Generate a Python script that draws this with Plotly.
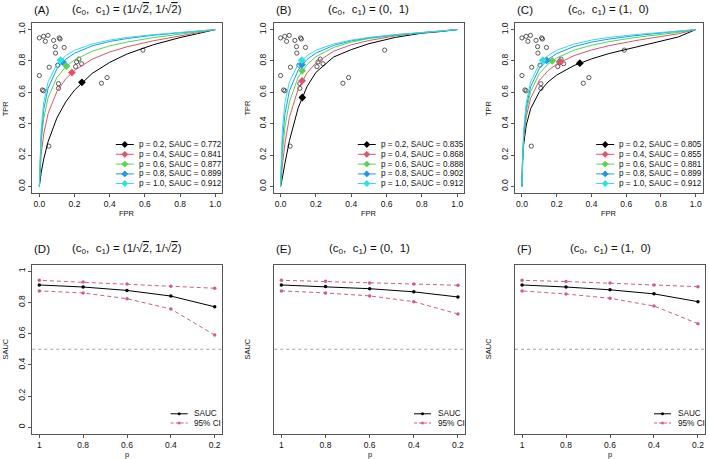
import plotly.graph_objects as go

W, H = 709, 459
FONT = "Liberation Sans, Arial, Helvetica, sans-serif"

# ---------------- data ----------------
FPR_GRID = [0, 0.003, 0.01, 0.025, 0.05, 0.1, 0.15, 0.2, 0.3, 0.4, 0.5, 0.65, 0.8, 0.9, 1.0]

P_VALUES = [0.2, 0.4, 0.6, 0.8, 1.0]
P_LABELS = ["0.2", "0.4", "0.6", "0.8", "1.0"]
COLORS = ["#000000", "#DF536B", "#61D04F", "#2297E6", "#28E2E5"]

# SROC curves (TPR at FPR_GRID), one list per p
SROC_A = [
    [0, 0.031, 0.085, 0.175, 0.286, 0.437, 0.539, 0.614, 0.720, 0.791, 0.845, 0.904, 0.949, 0.974, 1],
    [0, 0.090, 0.199, 0.335, 0.466, 0.606, 0.686, 0.740, 0.811, 0.857, 0.891, 0.929, 0.959, 0.978, 1],
    [0, 0.135, 0.277, 0.434, 0.567, 0.695, 0.763, 0.807, 0.862, 0.896, 0.921, 0.949, 0.970, 0.984, 1],
    [0, 0.154, 0.318, 0.490, 0.627, 0.750, 0.811, 0.849, 0.896, 0.924, 0.943, 0.964, 0.980, 0.989, 1],
    [0, 0.184, 0.362, 0.536, 0.667, 0.780, 0.834, 0.868, 0.908, 0.933, 0.950, 0.968, 0.982, 0.990, 1],
]
SROC_B = [
    [0, 0.013, 0.054, 0.148, 0.291, 0.502, 0.637, 0.727, 0.825, 0.872, 0.910, 0.950, 0.977, 0.987, 1],
    [0, 0.043, 0.131, 0.276, 0.440, 0.623, 0.724, 0.788, 0.862, 0.903, 0.930, 0.960, 0.980, 0.988, 1],
    [0, 0.082, 0.210, 0.380, 0.539, 0.697, 0.777, 0.827, 0.886, 0.920, 0.943, 0.964, 0.981, 0.989, 1],
    [0, 0.127, 0.284, 0.462, 0.609, 0.743, 0.810, 0.850, 0.899, 0.928, 0.947, 0.966, 0.9815, 0.9895, 1],
    [0, 0.184, 0.362, 0.536, 0.667, 0.780, 0.834, 0.868, 0.908, 0.933, 0.950, 0.968, 0.982, 0.990, 1],
]
SROC_C = [
    [0, 0.154, 0.270, 0.391, 0.495, 0.603, 0.666, 0.710, 0.771, 0.813, 0.847, 0.888, 0.926, 0.953, 1],
    [0, 0.167, 0.305, 0.446, 0.562, 0.676, 0.738, 0.780, 0.834, 0.870, 0.897, 0.929, 0.956, 0.973, 1],
    [0, 0.171, 0.324, 0.480, 0.604, 0.720, 0.780, 0.819, 0.869, 0.900, 0.923, 0.949, 0.969, 0.982, 1],
    [0, 0.174, 0.340, 0.506, 0.636, 0.752, 0.810, 0.847, 0.892, 0.920, 0.939, 0.961, 0.977, 0.987, 1],
    [0, 0.184, 0.362, 0.536, 0.667, 0.780, 0.834, 0.868, 0.908, 0.933, 0.950, 0.968, 0.982, 0.990, 1],
]

# summary operating points (diamonds)
SUM_FPR_A = [0.242, 0.185, 0.154, 0.133, 0.120]
SUM_TPR_A = [0.664, 0.726, 0.767, 0.794, 0.805]
SUM_FPR_B = [0.123, 0.122, 0.122, 0.121, 0.120]
SUM_TPR_B = [0.567, 0.673, 0.737, 0.776, 0.805]
SUM_FPR_C = [0.333, 0.222, 0.174, 0.142, 0.120]
SUM_TPR_C = [0.786, 0.794, 0.801, 0.803, 0.805]

SAUC_A = [0.772, 0.841, 0.877, 0.899, 0.912]
SAUC_B = [0.835, 0.868, 0.888, 0.902, 0.912]
SAUC_C = [0.805, 0.855, 0.881, 0.899, 0.912]

# 95% CI of SAUC (ordered as P_VALUES)
CI_HI_D = [0.891, 0.904, 0.919, 0.931, 0.942]
CI_LO_D = [0.591, 0.758, 0.824, 0.861, 0.874]
CI_HI_E = [0.910, 0.919, 0.925, 0.936, 0.942]
CI_LO_E = [0.726, 0.805, 0.842, 0.861, 0.874]
CI_HI_F = [0.901, 0.912, 0.925, 0.934, 0.942]
CI_LO_F = [0.664, 0.777, 0.827, 0.854, 0.874]

# individual studies
STUDY_FPR = [0.000, 0.024, 0.049, 0.034, 0.081, 0.113, 0.118, 0.141, 0.090, 0.092,
             0.056, 0.104, 0.000, 0.017, 0.024, 0.109, 0.109, 0.054, 0.353, 0.385,
             0.589, 0.225, 0.212, 0.206, 0.240]
STUDY_TPR = [0.947, 0.957, 0.963, 0.925, 0.931, 0.947, 0.940, 0.886, 0.891, 0.850,
             0.760, 0.773, 0.707, 0.615, 0.610, 0.655, 0.625, 0.257, 0.658, 0.694,
             0.869, 0.812, 0.794, 0.764, 0.782]

TOP_TICKS = [0, 0.2, 0.4, 0.6, 0.8, 1.0]
TOP_TICKTEXT = ["0.0", "0.2", "0.4", "0.6", "0.8", "1.0"]
BOT_XTICKS = [1, 0.8, 0.6, 0.4, 0.2]
BOT_XTICKTEXT = ["1", "0.8", "0.6", "0.4", "0.2"]
BOT_YTICKS = [0, 0.2, 0.4, 0.6, 0.8, 1]
BOT_YTICKTEXT = ["0", "0.2", "0.4", "0.6", "0.8", "1"]

TITLE_A = "(c<sub>0</sub>,  c<sub>1</sub>) = (1/√<span style='text-decoration:overline'>2</span>, 1/√<span style='text-decoration:overline'>2</span>)"
TITLE_B = "(c<sub>0</sub>,  c<sub>1</sub>) = (0,  1)"
TITLE_C = "(c<sub>0</sub>,  c<sub>1</sub>) = (1,  0)"

# ---------------- layout geometry (pixels) ----------------
TOP_BOX = [(32.3, 222.3), (273.5, 464.3), (515.0, 702.7)]
TOP_Y = (23.3, 192.7)
BOT_BOX = [(32.3, 221.7), (274.3, 465.0), (515.0, 705.0)]
BOT_Y = (265.0, 433.5)


def fx(px):
    return px / W


def fy(py):
    return 1 - py / H


fig = go.Figure()

axis_common = dict(
    showline=True, mirror=True, linecolor="#555555", linewidth=1,
    ticks="outside", ticklen=3, tickcolor="#555555", tickwidth=1,
    showgrid=False, zeroline=False,
    tickfont=dict(family=FONT, size=8.5, color="#111111"),
)

layout_axes = {}
for i in range(3):
    n = i + 1
    xs = "" if n == 1 else str(n)
    layout_axes["xaxis" + xs] = dict(
        axis_common, domain=[fx(TOP_BOX[i][0]), fx(TOP_BOX[i][1])],
        range=[-0.04, 1.04], tickvals=TOP_TICKS, ticktext=TOP_TICKTEXT,
        anchor="y" + xs,
    )
    layout_axes["yaxis" + xs] = dict(
        axis_common, domain=[fy(TOP_Y[1]), fy(TOP_Y[0])],
        range=[-0.04, 1.04], tickvals=TOP_TICKS, ticktext=TOP_TICKTEXT,
        tickangle=-90, anchor="x" + xs,
    )
for i in range(3):
    n = i + 4
    xs = str(n)
    layout_axes["xaxis" + xs] = dict(
        axis_common, domain=[fx(BOT_BOX[i][0]), fx(BOT_BOX[i][1])],
        range=[1.032, 0.168], tickvals=BOT_XTICKS, ticktext=BOT_XTICKTEXT,
        anchor="y" + xs,
    )
    ycfg = dict(
        axis_common, domain=[fy(BOT_Y[1]), fy(BOT_Y[0])],
        range=[-0.04, 1.04], tickvals=BOT_YTICKS, ticktext=BOT_YTICKTEXT,
        tickangle=-90, anchor="x" + xs,
    )
    if i > 0:
        ycfg["showticklabels"] = False
        ycfg["ticks"] = ""
    layout_axes["yaxis" + xs] = ycfg

# ---------------- top panels ----------------
tops = [
    (SROC_A, SUM_FPR_A, SUM_TPR_A, SAUC_A),
    (SROC_B, SUM_FPR_B, SUM_TPR_B, SAUC_B),
    (SROC_C, SUM_FPR_C, SUM_TPR_C, SAUC_C),
]
for i, (curves, sfpr, stpr, sauc) in enumerate(tops):
    n = i + 1
    xa = "x" if n == 1 else "x%d" % n
    ya = "y" if n == 1 else "y%d" % n
    fig.add_trace(go.Scatter(
        x=STUDY_FPR, y=STUDY_TPR, mode="markers", xaxis=xa, yaxis=ya,
        marker=dict(symbol="circle-open", size=4.2, color="#333333", line=dict(width=0.8)),
        showlegend=False, hoverinfo="skip"))
    for k in range(5):
        fig.add_trace(go.Scatter(
            x=FPR_GRID, y=curves[k], mode="lines", xaxis=xa, yaxis=ya,
            line=dict(color=COLORS[k], width=1), showlegend=False))
    for k in range(5):
        fig.add_trace(go.Scatter(
            x=[sfpr[k]], y=[stpr[k]], mode="markers", xaxis=xa, yaxis=ya,
            marker=dict(symbol="diamond", size=6, color=COLORS[k]),
            showlegend=False))

# ---------------- bottom panels ----------------
CI_COLOR = "#D0607A"
bots = [
    (SAUC_A, CI_LO_D, CI_HI_D),
    (SAUC_B, CI_LO_E, CI_HI_E),
    (SAUC_C, CI_LO_F, CI_HI_F),
]
shapes = []
for i, (sauc, lo, hi) in enumerate(bots):
    n = i + 4
    xa, ya = "x%d" % n, "y%d" % n
    shapes.append(dict(type="line", xref=xa + " domain", yref=ya, x0=0, x1=1, y0=0.5, y1=0.5,
                       line=dict(color="#A0A0A0", width=1, dash="3px,3px")))
    for ci in (lo, hi):
        fig.add_trace(go.Scatter(
            x=P_VALUES, y=ci, mode="lines+markers", xaxis=xa, yaxis=ya,
            line=dict(color=CI_COLOR, width=1, dash="4px,3px"),
            marker=dict(size=3.5, color=CI_COLOR), showlegend=False))
    fig.add_trace(go.Scatter(
        x=P_VALUES, y=sauc, mode="lines+markers", xaxis=xa, yaxis=ya,
        line=dict(color="#000000", width=1),
        marker=dict(size=3.5, color="#000000"), showlegend=False))

# ---------------- text ----------------
ann = []


def text(x, y, s, size=8.5, xanchor="center", yanchor="middle", angle=0, color="#111111"):
    ann.append(dict(x=fx(x), y=fy(y), xref="paper", yref="paper", text=s, showarrow=False,
                    xanchor=xanchor, yanchor=yanchor, textangle=angle,
                    font=dict(family=FONT, size=size, color=color)))


panel_letters_top = ["(A)", "(B)", "(C)"]
panel_letters_bot = ["(D)", "(E)", "(F)"]
titles = [TITLE_A, TITLE_B, TITLE_C]
for i in range(3):
    l, r = TOP_BOX[i]
    text(l, 9.5, panel_letters_top[i], size=11.5, xanchor="left")
    text((l + r) / 2, 10, titles[i], size=11.5)
    text((l + r) / 2, 213, "FPR", size=7.5)
    text(l - 27, (TOP_Y[0] + TOP_Y[1]) / 2, "TPR", size=7.5, angle=-90)
    lb, rb = BOT_BOX[i]
    text(lb, 248.5, panel_letters_bot[i], size=11.5, xanchor="left")
    text((lb + rb) / 2, 249, titles[i], size=11.5)
    text((lb + rb) / 2, 454.5, "p", size=7.5)
    text(lb - 27, (BOT_Y[0] + BOT_Y[1]) / 2, "SAUC", size=7.5, angle=-90)

# top legends
LEG_ROWS = [144.5, 154.3, 164.1, 173.9, 183.5]
for i in range(3):
    saucs = tops[i][3]
    r = TOP_BOX[i][1]
    x0, x1, xt = r - 106.5, r - 88.5, r - 85.3
    for k in range(5):
        yy = LEG_ROWS[k]
        shapes.append(dict(type="line", xref="paper", yref="paper",
                           x0=fx(x0), x1=fx(x1), y0=fy(yy), y1=fy(yy),
                           line=dict(color=COLORS[k], width=1)))
        cx = (x0 + x1) / 2
        d = 3.4
        path = "M %f,%f L %f,%f L %f,%f L %f,%f Z" % (
            fx(cx), fy(yy - d), fx(cx + d), fy(yy), fx(cx), fy(yy + d), fx(cx - d), fy(yy))
        shapes.append(dict(type="path", xref="paper", yref="paper", path=path,
                           fillcolor=COLORS[k], line=dict(width=0)))
        text(xt, yy, "p = %s, SAUC = %.3f" % (P_LABELS[k], saucs[k]), size=8.2, xanchor="left")

# bottom legends
for i in range(3):
    r = BOT_BOX[i][1]
    x0, x1, xt = r - 51, r - 34, r - 29.5
    for yy, col, dash, lab in [(413.8, "#000000", None, "SAUC"), (423.0, CI_COLOR, "3px,2px", "95% CI")]:
        ln = dict(color=col, width=1)
        if dash:
            ln["dash"] = dash
        shapes.append(dict(type="line", xref="paper", yref="paper",
                           x0=fx(x0), x1=fx(x1), y0=fy(yy), y1=fy(yy), line=ln))
        cx = (x0 + x1) / 2
        rr = 1.5
        shapes.append(dict(type="circle", xref="paper", yref="paper",
                           x0=fx(cx - rr), x1=fx(cx + rr), y0=fy(yy + rr), y1=fy(yy - rr),
                           fillcolor=col, line=dict(width=0)))
        text(xt, yy, lab, size=8.2, xanchor="left")

fig.update_layout(
    width=W, height=H, margin=dict(l=0, r=0, t=0, b=0),
    paper_bgcolor="white", plot_bgcolor="white",
    showlegend=False, annotations=ann, shapes=shapes,
    font=dict(family=FONT, color="#111111"),
    **layout_axes,
)

fig.write_html("out.html")
